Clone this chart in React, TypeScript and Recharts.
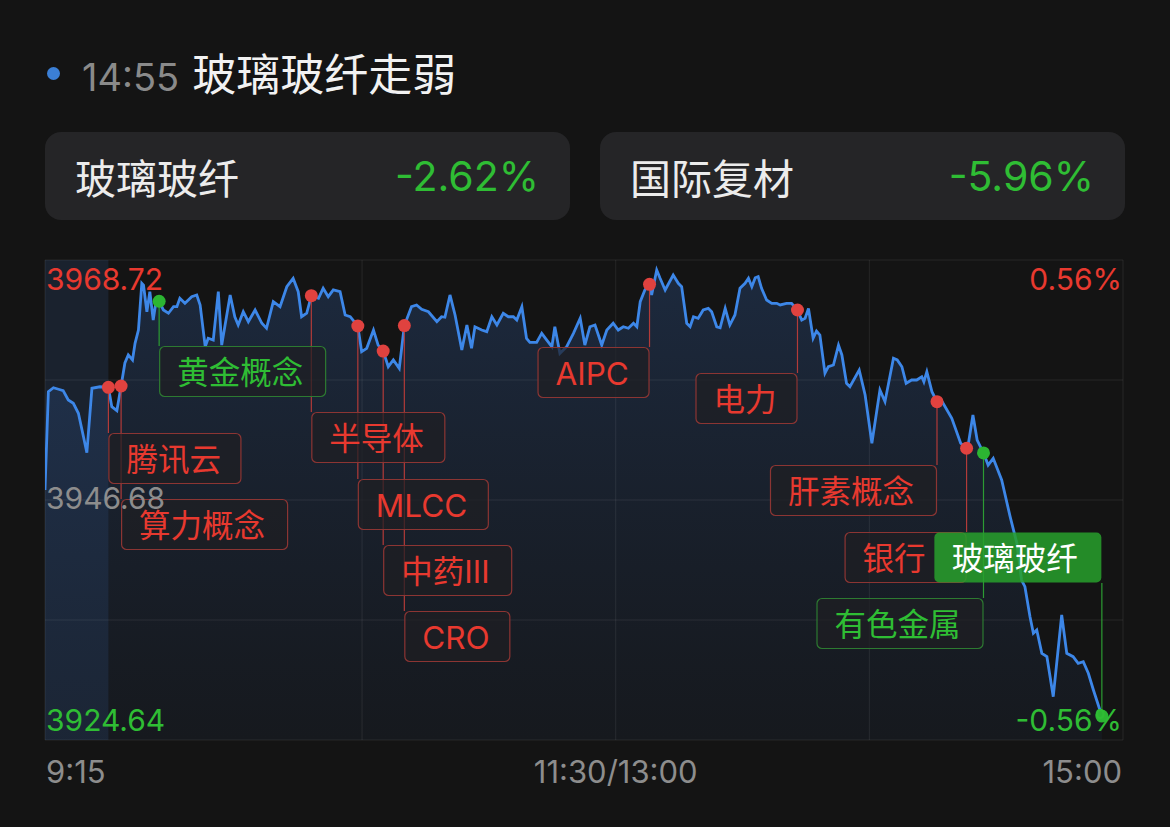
import React from 'react';
import {
  ComposedChart,
  Line,
  Area,
  XAxis,
  YAxis,
  ReferenceLine,
  ReferenceArea,
  Scatter,
} from 'recharts';

// ---------------- data ----------------
const headerTime = '14:55';
const headerTitle = '玻璃玻纤走弱';
const cardNames = ['玻璃玻纤', '国际复材'];
const cardChanges = ['-2.62%', '-5.96%'];

const prevClose = 3946.68;
const priceTicks = [3924.64, 3946.68, 3968.72];
const gridPrices = [3924.64, 3935.66, 3946.68, 3957.7, 3968.72];
// minutes since 9:15 (9:15–11:30 -> 0–135, 13:00–15:00 -> 135–255)
const timeTicks = [0, 135, 255];
const timeLabels = ['9:15', '11:30/13:00', '15:00'];
const gridTimes = [0, 75, 135, 195, 255];
const preMarket = [0, 15];

const times = [
  0, 0.8, 2.0, 3.2, 4.3, 5.5, 6.7, 7.9, 9.1, 9.9,
  11.1, 13.0, 15, 15.8, 17.0, 18, 18.9, 19.7, 20.7, 21.3,
  22.1, 22.9, 23.3, 24.1, 24.8, 25.6, 26.2, 27, 28.0, 29.2,
  30.4, 31.2, 31.9, 33.1, 34.7, 35.9, 36.7, 37.9, 38.6, 39.8,
  41.0, 41.8, 43.8, 44.9, 45.7, 46.9, 48.1, 49.7, 51.3, 52.4,
  54.0, 55.6, 57.2, 58.7, 59.9, 60.7, 61.9, 63, 64.7, 65.8,
  67.0, 68.2, 69.8, 71.0, 72.2, 74, 74.9, 76.1, 77.7, 78.8,
  80, 81.2, 82.4, 83.8, 85, 86.7, 87.9, 89.1, 90.7, 92.7,
  93.8, 94.6, 95.8, 97.0, 98.6, 99.8, 100.9, 101.7, 103.3, 104.5,
  105.7, 106.9, 108.4, 109.6, 110.8, 111.6, 112.8, 113.9, 114.7, 116.3,
  117.5, 118.7, 119.9, 120.6, 121.8, 123.4, 125.0, 126.6, 127.7, 128.9,
  130.1, 131.7, 132.9, 134.4, 135.6, 136.8, 138.0, 139.2, 140.0, 140.8,
  141.9, 143, 143.5, 144.7, 145.5, 146.7, 148.6, 149.8, 150.6, 151.8,
  152.6, 153.4, 154.5, 155.7, 156.9, 157.7, 158.9, 159.7, 160.9, 162.0,
  163.2, 164.4, 165.6, 166.4, 167.2, 168.0, 168.7, 169.5, 170.7, 171.9,
  173.1, 173.9, 175.4, 176.6, 178, 179.0, 179.8, 180.6, 181.7, 182.5,
  183.3, 184.5, 185.3, 186.5, 187.7, 188.5, 189.6, 190.4, 192.6, 194.0,
  195.6, 197.5, 198.7, 200.7, 201.6, 202.7, 203.7, 205.0, 206.2, 207.4,
  207.9, 208.6, 209.8, 211, 212.0, 214.5, 216.6, 218, 218.5, 219.5,
  220.5, 222, 223.1, 224.3, 226.3, 228.3, 229.9, 231.0, 231.8, 233.0,
  233.8, 234.6, 235.8, 237.0, 238.5, 240.5, 241.7, 243.2, 244.4, 245.6,
  246.8, 248.0, 250,
];

const prices = [
  3947.6, 3956.63, 3956.99, 3956.85, 3956.72, 3955.86, 3955.56, 3954.64, 3952.49, 3951.02,
  3956.94, 3957.08, 3957.03, 3955.25, 3954.88, 3957.15, 3959.26, 3960.0, 3959.54, 3961.07,
  3962.29, 3966.58, 3966.42, 3963.97, 3965.81, 3963.21, 3964.74, 3964.93, 3964.13, 3963.83,
  3964.43, 3964.43, 3965.2, 3964.74, 3965.35, 3965.51, 3964.59, 3960.76, 3961.53, 3961.37,
  3965.81, 3960.91, 3965.51, 3963.51, 3962.75, 3963.97, 3963.05, 3964.13, 3962.91, 3962.45,
  3964.89, 3964.43, 3966.27, 3967.04, 3965.81, 3963.51, 3963.83, 3965.44, 3965.2, 3966.12,
  3965.35, 3965.97, 3965.81, 3963.67, 3963.51, 3962.66, 3960.3, 3960.61, 3962.29, 3960.91,
  3960.36, 3958.92, 3959.54, 3958.77, 3962.7, 3964.43, 3964.59, 3964.19, 3963.97, 3963.05,
  3963.51, 3963.46, 3965.51, 3963.67, 3960.46, 3962.75, 3960.61, 3962.59, 3962.29, 3962.14,
  3963.51, 3962.75, 3963.83, 3963.51, 3963.51, 3963.21, 3964.43, 3961.53, 3961.16, 3961.16,
  3961.99, 3961.37, 3960.76, 3962.59, 3960.15, 3960.76, 3961.99, 3963.37, 3960.91, 3962.59,
  3962.75, 3960.91, 3962.29, 3962.91, 3962.29, 3962.59, 3962.45, 3962.91, 3962.59, 3964.89,
  3965.97, 3966.49, 3965.51, 3967.8, 3967.04, 3965.97, 3967.34, 3966.58, 3966.27, 3962.91,
  3962.59, 3963.51, 3963.37, 3964.13, 3964.28, 3963.97, 3962.59, 3962.5, 3964.28, 3962.75,
  3963.67, 3966.12, 3966.58, 3967.04, 3966.27, 3967.09, 3967.19, 3966.12, 3965.05, 3964.74,
  3964.74, 3964.59, 3964.74, 3964.74, 3964.13, 3963.21, 3963.37, 3964.28, 3961.53, 3962.2,
  3961.83, 3958.32, 3958.92, 3959.08, 3960.91, 3960.0, 3957.4, 3957.08, 3958.62, 3956.32,
  3951.89, 3956.78, 3955.71, 3959.69, 3959.54, 3958.92, 3957.4, 3957.7, 3957.7, 3958.0,
  3957.54, 3958.46, 3956.63, 3955.71, 3955.86, 3954.18, 3951.89, 3951.43, 3952.03, 3954.49,
  3952.19, 3951.0, 3949.89, 3950.51, 3948.52, 3945.15, 3942.7, 3939.33, 3938.72, 3935.96,
  3934.44, 3934.74, 3932.6, 3932.29, 3928.62, 3936.12, 3932.6, 3932.29, 3931.68, 3931.83,
  3930.77, 3929.23, 3926.84,
];

const eventTimes = [15, 18, 27, 63, 74, 80, 85, 143, 178, 211, 218, 222, 250];
const eventNames = ['腾讯云', '算力概念', '黄金概念', '半导体', 'MLCC', '中药Ⅲ', 'CRO', 'AIPC', '电力', '肝素概念', '银行', '有色金属', '玻璃玻纤'];
const eventKinds = ['up', 'up', 'down', 'up', 'up', 'up', 'up', 'up', 'up', 'up', 'up', 'down', 'focus'];

// ---------------- layout (not data) ----------------
const W = 1170;
const H = 827;
const PLOT = { left: 45, top: 260, right: 1123, bottom: 740 };
const BOX_H = 51;
const boxTops = [173, 239, 86, 152, 219, 285, 351, 87, 113, 205, 272, 338, 272];
const boxWidths = [133, 167, 167, 134, 131, 129, 106, 112, 102, 167, 122, 167, 168];
const boxSides = ['right', 'right', 'right', 'right', 'right', 'right', 'right', 'left', 'left', 'left', 'left', 'left', 'left'];

const FONT = 'Inter, "Noto Sans CJK SC", "Noto Sans", sans-serif';
const BG = '#141414';
const RED = '#e8392f';
const GREEN = '#2fbd34';
const GRAY = '#8d8d8d';

const lineTable = times.map((t, k) => ({ t, p: prices[k] }));
const eventTable = eventTimes.map((t, k) => ({
  t,
  p: prices[times.indexOf(t)],
  name: eventNames[k],
  kind: eventKinds[k],
  k,
}));

function boxGeom(k: number, cx: number) {
  const w = boxWidths[k];
  const left = boxSides[k] === 'right' ? cx : cx - w;
  const top = PLOT.top + boxTops[k];
  return { left, top, w };
}

const Connector = (props: any) => {
  const { cx, cy, payload } = props;
  if (cx == null || cy == null) return null;
  const { top } = boxGeom(payload.k, cx);
  const color = payload.kind === 'up' ? '#b23b39' : '#2c9c33';
  const below = top > cy;
  return (
    <line
      x1={cx}
      x2={cx}
      y1={below ? cy : top + BOX_H}
      y2={below ? top : cy}
      stroke={color}
      strokeWidth={1.2}
    />
  );
};

const Marker = (props: any) => {
  const { cx, cy, payload } = props;
  if (cx == null || cy == null) return null;
  const { left, top, w } = boxGeom(payload.k, cx);
  const kind = payload.kind;
  const fill = kind === 'focus' ? 'rgba(40,160,44,0.86)' : 'rgba(30,30,34,0.72)';
  const stroke = kind === 'up' ? '#8c3533' : kind === 'down' ? '#2d7a31' : 'none';
  const txt = kind === 'up' ? RED : kind === 'down' ? GREEN : '#ffffff';
  const dot = kind === 'up' ? '#e0423f' : '#2cb532';
  return (
    <g>
      <rect x={left + 0.5} y={top + 0.5} width={w - 1} height={BOX_H - 1} rx={5} fill={fill} stroke={stroke} strokeWidth={1.2} />
      <text x={left + 18} y={top + BOX_H / 2 + 1} fill={txt} fontSize={31.5} fontFamily={FONT} dominantBaseline="central">
        {payload.name}
      </text>
      <circle cx={cx} cy={cy} r={6.5} fill={dot} />
    </g>
  );
};

const PriceTick = (props: any) => {
  const v = props.payload.value;
  const y = props.y;
  const up = v > prevClose + 1e-6;
  const down = v < prevClose - 1e-6;
  const color = up ? RED : down ? GREEN : GRAY;
  const ty = up ? y + 19 : down ? y - 20 : y - 2;
  const pct = ((v - prevClose) / prevClose) * 100;
  return (
    <g>
      <text x={PLOT.left + 1} y={ty} fill={color} fontSize={30} fontFamily={FONT} dominantBaseline="central" textAnchor="start">
        {v.toFixed(2)}
      </text>
      {(up || down) && (
        <text x={PLOT.right - 1} y={ty} fill={color} fontSize={30} fontFamily={FONT} dominantBaseline="central" textAnchor="end">
          {pct.toFixed(2) + '%'}
        </text>
      )}
    </g>
  );
};

const TimeTick = (props: any) => {
  const v = props.payload.value;
  const i = timeTicks.indexOf(v);
  const anchor = i === 0 ? 'start' : i === timeTicks.length - 1 ? 'end' : 'middle';
  const dx = i === 0 ? 1 : i === timeTicks.length - 1 ? -1 : 0;
  return (
    <text x={props.x + dx} y={PLOT.bottom + 31} fill={GRAY} fontSize={31} fontFamily={FONT} dominantBaseline="central" textAnchor={anchor}>
      {timeLabels[i]}
    </text>
  );
};

export default function App() {
  return (
    <div style={{ position: 'absolute', left: 0, top: 0, width: W, height: H, background: BG, overflow: 'hidden', fontFamily: FONT }}>
      <ComposedChart
        width={W}
        height={H}
        data={lineTable}
        margin={{ top: PLOT.top, left: PLOT.left, right: W - PLOT.right, bottom: H - PLOT.bottom - 40 }}
      >
        <defs>
          <linearGradient id="areaGrad" x1="0" y1="0" x2="0" y2="1">
            <stop offset="0%" stopColor="rgb(48,92,160)" stopOpacity={0.3} />
            <stop offset="100%" stopColor="rgb(40,70,120)" stopOpacity={0.1} />
          </linearGradient>
        </defs>
        <XAxis
          dataKey="t"
          type="number"
          domain={[0, 255]}
          ticks={timeTicks}
          height={40}
          axisLine={false}
          tickLine={false}
          tick={<TimeTick />}
          allowDataOverflow
        />
        <YAxis
          type="number"
          domain={[priceTicks[0], priceTicks[priceTicks.length - 1]]}
          ticks={priceTicks}
          width={60}
          mirror
          interval={0}
          axisLine={false}
          tickLine={false}
          tick={<PriceTick />}
          allowDataOverflow
        />
        <ReferenceArea x1={preMarket[0]} x2={preMarket[1]} fill="rgb(34,52,78)" fillOpacity={0.45} stroke="none" />
        {gridPrices.map((v) => (
          <ReferenceLine key={'h' + v} y={v} stroke="rgba(255,255,255,0.08)" strokeWidth={1} />
        ))}
        {gridTimes.map((v) => (
          <ReferenceLine key={'v' + v} x={v} stroke="rgba(255,255,255,0.08)" strokeWidth={1} />
        ))}
        <Area dataKey="p" type="linear" stroke="none" fill="url(#areaGrad)" fillOpacity={1} isAnimationActive={false} />
        <Line dataKey="p" type="linear" stroke="#3d87e8" strokeWidth={2.8} dot={false} isAnimationActive={false} />
        <Scatter data={eventTable} dataKey="p" shape={<Connector />} isAnimationActive={false} />
        <Scatter data={eventTable} dataKey="p" shape={<Marker />} isAnimationActive={false} />
      </ComposedChart>

      <div style={{ position: 'absolute', left: 47, top: 67, width: 13, height: 13, borderRadius: 7, background: '#3b7fd6' }} />
      <div style={{ position: 'absolute', left: 82, top: 50, height: 50, lineHeight: '50px', whiteSpace: 'nowrap' }}>
        <span style={{ color: '#8a8a8a', fontSize: 38 }}>{headerTime}</span>
        <span style={{ color: '#f2f2f2', fontSize: 44, marginLeft: 13 }}>{headerTitle}</span>
      </div>
      {cardNames.map((n, k) => (
        <div
          key={n}
          style={{
            position: 'absolute',
            left: 45 + k * 555,
            top: 132,
            width: 525,
            height: 88,
            borderRadius: 16,
            background: '#252527',
            display: 'flex',
            alignItems: 'center',
            justifyContent: 'space-between',
            padding: '0 31px 0 30px',
            boxSizing: 'border-box',
          }}
        >
          <span style={{ color: '#ececec', fontSize: 41 }}>{n}</span>
          <span style={{ color: GREEN, fontSize: 41 }}>{cardChanges[k]}</span>
        </div>
      ))}
    </div>
  );
}
